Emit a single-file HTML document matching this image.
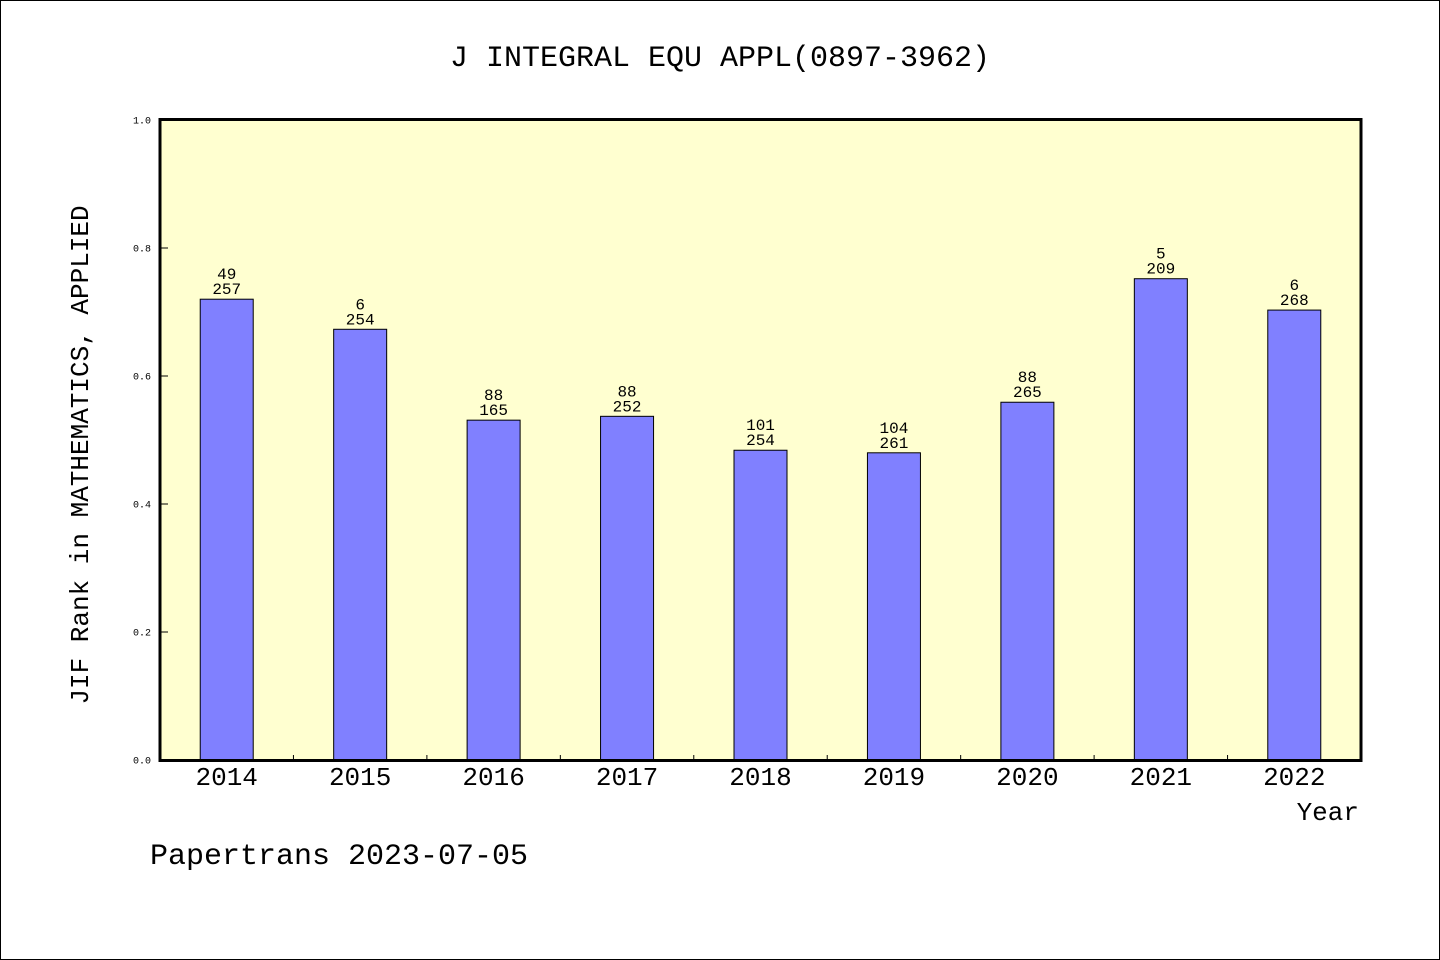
<!DOCTYPE html>
<html><head><meta charset="utf-8"><style>
html,body{margin:0;padding:0;background:#fff}
svg{display:block}
text{font-family:"WenQuanYi Zen Hei","Liberation Mono",sans-serif;fill:#000}
</style></head><body>
<svg id="chart" width="1440" height="960" viewBox="0 0 1440 960">
<rect x="0.5" y="0.5" width="1439" height="959" fill="#fff" stroke="#000"/>
<text x="720" y="66" font-size="30" text-anchor="middle">J INTEGRAL EQU APPL(0897-3962)</text>
<rect x="160" y="119.5" width="1201" height="641" fill="#ffffd0"/>
<g id="bars"></g>
<g id="axes"></g>
<rect x="160" y="119.5" width="1201" height="641" fill="none" stroke="#000" stroke-width="3"/>
<text x="88" y="455" font-size="26" text-anchor="middle" transform="rotate(-90 88 455)">JIF Rank in MATHEMATICS, APPLIED</text>
<text x="1359" y="820" font-size="26" text-anchor="end">Year</text>
<text x="150" y="864" font-size="30">Papertrans 2023-07-05</text>
</svg>
<script>
const years=["2014","2015","2016","2017","2018","2019","2020","2021","2022"];
const values=[0.720,0.673,0.531,0.537,0.484,0.480,0.559,0.752,0.703];
const ranks=["49","6","88","88","101","104","88","5","6"];
const totals=["257","254","165","252","254","261","265","209","268"];
const yTicks=[0,0.2,0.4,0.6,0.8,1.0];
const yTickLabels=["0.0","0.2","0.4","0.6","0.8","1.0"];
const NS="http://www.w3.org/2000/svg";
const x0=160,x1=1361,yB=760,yT=120;
const step=(x1-x0)/years.length;
const xC=i=>x0+step*(i+0.5);
const yS=v=>yB-(yB-yT)*v;
function mk(tag,attrs,parent,txt){const e=document.createElementNS(NS,tag);for(const k in attrs)e.setAttribute(k,attrs[k]);if(txt!=null)e.textContent=txt;parent.appendChild(e);return e;}
const bars=document.getElementById('bars'),axes=document.getElementById('axes');
years.forEach((y,i)=>{
  const top=yS(values[i]);
  const r=mk('rect',{x:xC(i)-26.5,y:top,width:53,height:yB-top,fill:'#8080ff',stroke:'#000','stroke-width':1},bars);
  
  
  const t1=mk('text',{x:xC(i),y:top-20,'font-size':16,'text-anchor':'middle'},bars,ranks[i]);
  
  
  const t2=mk('text',{x:xC(i),y:top-5,'font-size':16,'text-anchor':'middle'},bars,totals[i]);
  
  
  const xl=mk('text',{x:xC(i),y:785,'font-size':26,'text-anchor':'middle'},axes,y);
  
  
  if(i>0){const tk=mk('line',{x1:x0+step*i,x2:x0+step*i,y1:760,y2:755,stroke:'#000'},axes);
  
  }
});
yTicks.forEach((v,i)=>{
  const tk=mk('line',{x1:160,x2:168,y1:yS(v),y2:yS(v),stroke:'#000'},axes);
  
  
  const tl=mk('text',{x:151,y:yS(v)+3.5,'font-size':10,'text-anchor':'end'},axes,yTickLabels[i]);
  
  
});
</script>
</body></html>
